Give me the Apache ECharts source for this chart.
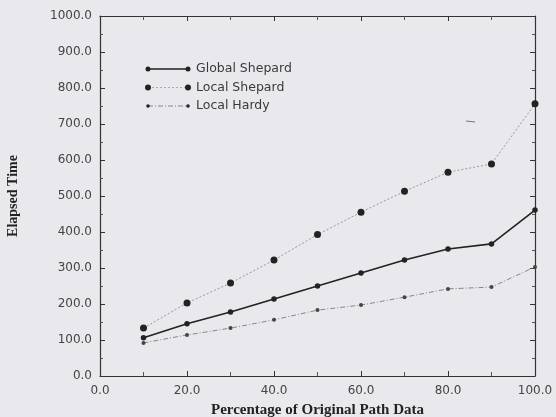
<!DOCTYPE html>
<html><head><meta charset="utf-8">
<script src="https://cdn.jsdelivr.net/npm/echarts@6/dist/echarts.min.js"></script>
<style>html,body{margin:0;padding:0;background:#e8e8ed;}#c{width:556px;height:417px;}</style>
</head><body><div id="c"></div>
<script>
var xValues = [10, 20, 30, 40, 50, 60, 70, 80, 90, 100];
var globalShepard = [106, 145, 178, 214, 250, 286, 322, 353, 367, 461];
var localShepard = [133, 203, 258, 322, 393, 455, 513, 566, 589, 756];
var localHardy = [92, 114, 133, 156, 183, 197, 219, 242, 247, 303];
var seriesNames = ['Global Shepard', 'Local Shepard', 'Local Hardy'];

function pairs(v){ return xValues.map(function(x,i){return [x, v[i]];}); }
var chart = echarts.init(document.getElementById('c'));
var lblFont = {fontFamily:'DejaVu Sans', fontSize:12, color:'#444'};
var axisLine = {show:true, onZero:false, lineStyle:{color:'#333', width:1.2}};
function fmt(v){ return v.toFixed(1); }
var legendGraphic = [];
var legStyles = [
  {stroke:'#222', lineWidth:1.5, lineDash:null, r:2.5},
  {stroke:'#aaa', lineWidth:1, lineDash:[2,2], r:3},
  {stroke:'#888', lineWidth:1, lineDash:[5,2,1,2], r:1.8}
];
seriesNames.forEach(function(n,i){
  var y = 69 + i*18.5;
  var s = legStyles[i];
  legendGraphic.push({type:'line', shape:{x1:148,y1:y,x2:188,y2:y}, style:{stroke:s.stroke, lineWidth:s.lineWidth, lineDash:s.lineDash}});
  legendGraphic.push({type:'circle', shape:{cx:148,cy:y,r:s.r}, style:{fill:'#222'}});
  legendGraphic.push({type:'circle', shape:{cx:188,cy:y,r:s.r}, style:{fill:'#222'}});
  legendGraphic.push({type:'text', x:196, y:y, style:{text:n, fontFamily:'DejaVu Sans', fontSize:12.5, fill:'#3a3a3a', verticalAlign:'middle'}});
});
legendGraphic.push({type:'line', shape:{x1:466,y1:121,x2:475,y2:122}, style:{stroke:'#777', lineWidth:1}});
var tickInside = {inside:true, length:5, lineStyle:{color:'#333'}};
chart.setOption({
  backgroundColor:'#e8e8ed',
  animation:false,
  grid:{left:100, right:21, top:16, bottom:41, outerBoundsMode:'none', containLabel:false},
  xAxis:[{
    type:'value', min:0, max:100, interval:20,
    name:'Percentage of Original Path Data', nameLocation:'middle', nameGap:27,
    nameTextStyle:{fontFamily:'Liberation Serif', fontWeight:'bold', fontSize:15, color:'#222'},
    axisLine:axisLine, axisTick:tickInside,
    minorTick:{show:true, splitNumber:2, length:4, lineStyle:{color:'#555'}},
    splitLine:{show:false},
    axisLabel:Object.assign({formatter:fmt, margin:9}, lblFont)
  },{
    type:'value', position:'top', min:0, max:100, interval:20,
    axisLine:axisLine, axisTick:tickInside,
    minorTick:{show:true, splitNumber:2, length:4, lineStyle:{color:'#555'}},
    splitLine:{show:false}, axisLabel:{show:false}
  }],
  yAxis:[{
    type:'value', min:0, max:1000, interval:100,
    name:'Elapsed Time', nameLocation:'middle', nameGap:80, nameRotate:90,
    nameTextStyle:{fontFamily:'Liberation Serif', fontWeight:'bold', fontSize:14, color:'#222'},
    axisLine:axisLine, axisTick:tickInside,
    minorTick:{show:true, splitNumber:2, length:3, lineStyle:{color:'#555'}},
    splitLine:{show:false},
    axisLabel:Object.assign({formatter:fmt, margin:8}, lblFont)
  },{
    type:'value', position:'right', min:0, max:1000, interval:100,
    axisLine:axisLine, axisTick:tickInside,
    minorTick:{show:true, splitNumber:2, length:3, lineStyle:{color:'#555'}},
    splitLine:{show:false}, axisLabel:{show:false}
  }],
  series:[
    {name:seriesNames[0], type:'line', data:pairs(globalShepard), symbol:'circle', symbolSize:5.5,
     lineStyle:{color:'#222', width:1.6}, itemStyle:{color:'#222'}},
    {name:seriesNames[1], type:'line', data:pairs(localShepard), symbol:'circle', symbolSize:7,
     lineStyle:{color:'#999', width:1, type:[2,2]}, itemStyle:{color:'#222'}},
    {name:seriesNames[2], type:'line', data:pairs(localHardy), symbol:'circle', symbolSize:4,
     lineStyle:{color:'#888', width:1, type:[5,2,1,2]}, itemStyle:{color:'#444'}}
  ],
  graphic:legendGraphic
});
</script></body></html>
